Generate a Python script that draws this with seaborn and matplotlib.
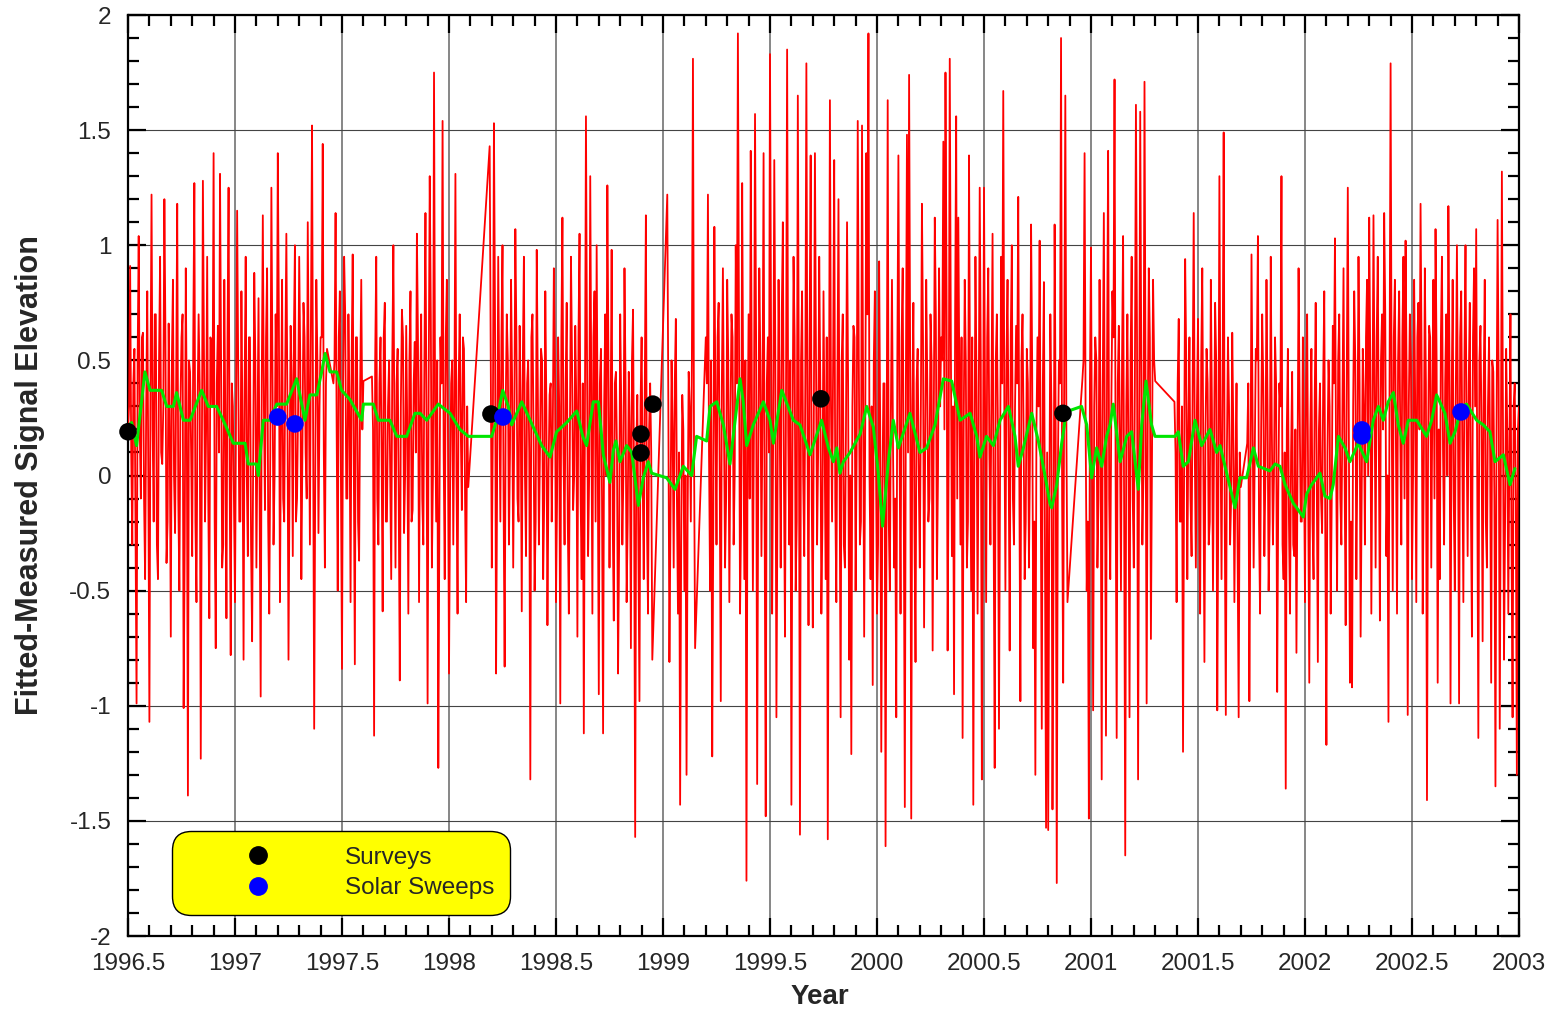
import numpy as np
import pandas as pd
import matplotlib
matplotlib.use("Agg")
import matplotlib.pyplot as plt
import seaborn as sns
from matplotlib.ticker import MultipleLocator, FuncFormatter
from matplotlib.lines import Line2D

# ---------------- data ----------------
# observation periods (start, end) in decimal years
segment_bounds = [(1996.50, 1997.43), (1997.46, 1997.60), (1997.64, 1998.09),
                  (1998.19, 1998.95), (1999.02, 1999.15), (1999.20, 2000.89),
                  (2000.96, 2001.30), (2001.39, 2001.70), (2001.73, 2003.00)]

# red residuals: excursion samples per period
red_a = [0.20, 0.91, -0.30, 0.55, -0.99, 1.04, -0.10, 0.62, -0.45, 0.80,
         -1.07, 1.22, -0.20, 0.70, -0.45, 0.95, 0.05, 1.20, -0.38, 0.66,
         -0.70, 0.85, -0.25, 1.18, -0.50, 0.60, -1.01, 0.90, -1.39, 0.45,
         -0.35, 1.27, -0.55, 0.70, -1.23, 1.28, -0.20, 0.95, -0.62, 0.58,
         1.40, -0.75, 0.65, 1.31, -0.40, 0.85, -0.62, 1.25, -0.78, 0.30,
         -0.55, 1.15, -0.20, 0.80, -0.80, 0.95, -0.35, 0.60, -0.72, 0.88,
         -0.40, 0.77, -0.96, 1.13, -0.15, 0.90, -0.60, 1.25, -0.30, 0.70,
         1.40, -0.55, 0.85, -0.20, 1.05, -0.80, 0.65, -0.35, 1.00, -0.10,
         0.95, -0.45, 0.75, 0.10, 1.10, -0.30, 1.52, -1.10, 0.85, -0.25, 0.60, 1.44, -0.40, 0.55]
red_b = [0.40, 1.14, -0.50, 0.80, -0.84, 0.95, -0.10, 0.70, -0.55, 0.96, -0.82, 0.60, -0.37, 0.85, 0.41]
red_c = [0.43, -1.13, 0.95, -0.30, 0.60, -0.59, 0.75, -0.20, 0.50, -0.45,
         1.00, -0.40, 0.55, -0.89, 0.72, -0.25, 0.65, -0.60, 0.80, -0.15, 0.58,
         1.05, -0.55, 0.70, -0.30, 1.14, -0.99, 1.30, -0.40, 1.75, -0.20, -1.27,
         0.60, 1.54, -0.45, 0.85, -0.86, 0.40, -0.30, 1.31, -0.60, 0.70, -0.15, 0.55, -0.55, -0.05]
red_d = [1.43, -0.40, 1.53, -0.86, 0.95, -0.20, 1.00, -0.83, 0.70, -0.30,
         0.85, -0.40, 1.07, -0.10, 0.65, -0.59, 0.95, -0.35, 0.50, -1.32,
         0.70, -0.50, 0.98, -0.30, 0.55, -0.45, 0.80, -0.65, 0.35, -0.20,
         0.90, -0.55, 0.60, -0.99, 1.12, -0.30, 0.75, -0.60, 0.95, -0.15,
         0.65, -0.70, 1.05, -0.45, -1.12, 1.56, -0.35, 1.30, -0.60, 0.80,
         1.00, -0.95, 0.55, -1.12, 0.70, 1.26, -0.40, 0.98, -0.63, 0.45,
         -0.86, 0.70, -0.30, 0.90, -0.55, 0.45, -0.75, 0.72, -1.57, 0.35,
         -0.98, 0.60, -0.45, 1.13, -0.60, 0.40, -0.80]
red_e = [1.22, -0.81, 0.50, -0.40, 0.68, -0.60, -1.43, 0.35, -0.50, -1.30, 0.45, -0.20, 1.81, -0.75]
red_f = [0.60, 1.22, -0.50, -1.22, 1.08, -0.30, 0.75, -0.98, 0.90, -0.40,
         0.85, -0.55, 0.70, -0.30, 1.00, 1.92, -0.60, 1.27, -0.45, -1.76,
         0.70, 1.41, -0.50, 1.57, -1.34, 0.90, -0.35, 1.40, -1.48, 0.60,
         1.83, -0.60, 1.37, -1.05, 0.85, -0.40, 1.10, -0.70, 1.85, -0.30,
         -1.43, 0.95, -0.50, 1.65, -1.56, 0.80, -0.35, 1.79, -0.65, 1.39,
         -0.66, 1.40, -0.30, 0.95, -0.60, 0.80, -0.45, -1.58, 1.63, -0.20,
         1.37, -0.55, 1.20, -1.05, 0.70, -0.40, 1.10, -0.80, -1.21, 0.65,
         -0.50, 1.54, -0.30, 1.52, -0.70, 1.40, 1.92, -0.45, -0.91, 0.80,
         -0.60, 0.93, -1.20, 0.40, -1.61, 1.63, -0.50, 0.85, -0.40, -1.05,
         1.39, -0.60, 0.90, -1.44, 1.48, 1.74, -1.49, 0.75, -0.81, 0.55,
         -0.40, 1.18, -0.66, 0.85, -0.20, 0.70, -0.76, 1.12, -0.45, 0.90,
         0.60, 1.45, 1.75, -0.76, 1.81, -0.35, -0.95, 1.56, 1.12, -0.30,
         -1.14, 0.85, -0.40, 1.39, -0.50, -1.43, 0.95, -0.60, 1.25, -1.32,
         1.25, -0.55, 0.90, -0.30, 1.05, -1.27, 0.70, -1.10, 0.95, 1.67,
         -0.50, 0.85, -0.76, 1.00, -0.30, 0.65, 1.21, -0.98, 0.70, -0.45,
         0.55, -0.40, 1.09, -0.75, -1.30, 0.60, 1.02, -1.10, 0.84, -1.53,
         -1.54, 0.70, -1.45, 1.09, -1.77, 0.50, 1.90, -0.90, 1.65, -0.55]
red_g = [0.42, 1.40, -0.50, -1.49, 0.99, -1.02, 0.60, -0.40, 0.85, -1.32,
         1.14, -1.13, 1.41, -0.45, 0.80, 1.72, -1.14, 0.65, -0.50, 1.04,
         -1.65, 0.70, -1.05, 0.95, -0.40, 1.61, -1.32, 1.58, -0.30, 1.71, -0.99, 0.90, -0.71, 0.85, 0.41]
red_h = [0.32, -0.55, 0.68, -0.20, -1.20, 0.94, -0.45, 0.60, -0.35, 1.14,
         -0.40, 0.68, -0.60, 0.90, -0.81, 0.55, -0.30, 0.85, -0.50, 0.75,
         -1.02, 1.30, -0.45, 1.49, -1.04, 0.60, -0.30, 0.62, -0.55, 0.40, -1.05, -0.05]
red_i = [0.14, -0.98, 0.96, -0.40, 0.55, 1.04, -0.60, 0.70, -0.35, 0.85,
         -0.50, 0.95, -0.30, 0.60, -0.94, 0.40, 1.30, -0.45, -1.36, 0.55,
         -0.60, 0.45, -0.35, -0.77, 0.90, -0.20, 0.60, -0.55, 0.70, -0.90,
         0.55, -0.45, 0.75, -0.81, 0.40, -0.25, 0.80, -1.17, 0.50, -0.60,
         0.65, 1.03, -0.50, 0.70, -0.30, 0.90, -0.65, 1.25, -0.90, -0.92,
         0.80, -0.45, 0.95, -0.70, 0.55, -0.30, 0.85, 1.12, -0.60, 1.13,
         -0.40, 0.95, -0.63, 0.70, 1.14, -0.35, -1.07, 1.79, -0.50, 0.85,
         -0.60, 0.80, -0.30, 0.95, 1.02, -1.04, 0.70, -0.45, 0.85, -0.55,
         0.75, 1.18, -0.60, 0.90, -1.41, 0.65, -0.40, 0.85, 1.07, -0.90,
         -0.45, 0.95, -0.30, 0.70, 1.17, -0.99, 0.85, -0.50, 1.00, -0.99,
         0.80, -0.55, 1.00, -0.35, 0.75, -0.70, 0.90, 1.07, -1.14, 0.65,
         -0.72, 0.85, -0.40, 0.60, -0.90, 0.45, -1.35, 1.11, -1.10, 1.32,
         -0.80, 0.55, -0.60, 0.70, -1.05, 0.40, -1.30, 0.30]

# red residuals: in-between (core band) samples per period, one fewer than above
mid_a = [0.3, 0.1, 0.4, -0.2, 0.5, 0.2, 0.6, -0.1, 0.3, 0.0,
         0.4, 0.2, 0.7, -0.3, 0.5, 0.1, 0.3, 0.6, -0.2, 0.2,
         0.5, 0.0, 0.4, -0.1, 0.3, 0.7, -0.3, 0.2, 0.5, 0.1,
         0.6, -0.2, 0.3, 0.4, 0.0, 0.5, 0.2, -0.1, 0.6, 0.3,
         -0.2, 0.4, 0.1, 0.5, -0.3, 0.2, 0.6, 0.0, 0.4, -0.1,
         0.3, 0.5, -0.2, 0.2, 0.4, 0.0, 0.6, -0.3, 0.1, 0.5,
         0.2, -0.1, 0.4, 0.3, 0.6, -0.2, 0.1, 0.5, 0.0, 0.3,
         0.7, 0.2, -0.1, 0.5, 0.3, 0.0, 0.4, 0.6, -0.2, 0.3,
         0.5, 0.1, 0.6, -0.1, 0.4, 0.7, 0.2, 0.0, 0.5, 0.3,
         0.6, 0.1, 0.4]
mid_b = [0.5, 0.2, 0.6, 0.0, 0.4, 0.7, -0.1, 0.3, 0.5, 0.1, 0.6, -0.2, 0.4, 0.2]
mid_c = [0.2, 0.5, -0.1, 0.4, 0.1, 0.6, -0.2, 0.3, 0.0, 0.5,
         0.2, 0.4, -0.1, 0.3, 0.6, 0.0, 0.2, 0.5, -0.2, 0.4,
         0.1, 0.6, 0.3, -0.1, 0.5, 0.2, 0.4, 0.7, 0.0, 0.3,
         0.5, -0.2, 0.4, 0.1, 0.6, 0.2, -0.1, 0.5, 0.3, 0.0,
         0.4, 0.2, 0.6, -0.1, 0.3]
mid_d = [0.5, 0.2, 0.7, 0.0, 0.4, 0.6, -0.1, 0.3, 0.5, 0.1,
         0.4, 0.2, 0.6, -0.2, 0.3, 0.5, 0.0, 0.4, 0.1, 0.6,
         0.2, -0.2, 0.4, 0.1, 0.5, -0.1, 0.3, 0.0, 0.4, 0.2,
         0.5, -0.1, 0.3, 0.6, 0.1, 0.4, -0.2, 0.2, 0.5, 0.0,
         0.3, 0.6, -0.1, 0.4, 0.2, 0.5, 0.0, 0.3, 0.6, -0.2,
         0.1, 0.4, -0.1, 0.3, 0.0, 0.5, 0.2, -0.2, 0.4, 0.1,
         -0.3, 0.3, 0.0, 0.4, -0.2, 0.2, 0.5, -0.1, 0.1, -0.3,
         0.3, 0.0, 0.4, -0.2, 0.2, 0.1]
mid_e = [0.3, -0.2, 0.2, 0.4, -0.1, 0.1, -0.3, 0.2, 0.0, -0.2, 0.3, 0.5, 0.1]
mid_f = [0.4, 0.1, 0.5, -0.2, 0.3, 0.6, 0.0, 0.4, 0.2, -0.1,
         0.5, 0.2, 0.6, 0.0, 0.4, 0.7, -0.2, 0.3, 0.5, 0.1,
         -0.1, 0.4, 0.2, 0.6, 0.0, 0.5, 0.3, -0.2, 0.4, 0.1,
         0.6, 0.2, 0.5, -0.1, 0.3, 0.7, 0.0, 0.4, 0.2, 0.5,
         0.1, 0.6, -0.2, 0.3, 0.5, 0.0, 0.4, 0.2, 0.6, -0.1,
         0.3, 0.5, 0.1, 0.4, -0.2, 0.2, 0.6, 0.0, 0.3, 0.5,
         -0.1, 0.4, 0.1, 0.5, -0.3, 0.2, 0.4, 0.0, 0.3, 0.6,
         0.1, 0.5, -0.2, 0.4, 0.2, 0.7, 0.0, 0.3, 0.5, 0.1,
         -0.3, 0.2, -0.1, 0.4, 0.0, -0.2, 0.3, 0.1, -0.1, 0.5,
         0.2, 0.6, -0.1, 0.4, 0.1, 0.5, 0.3, -0.2, 0.4, 0.0,
         0.3, 0.6, 0.1, 0.4, -0.1, 0.5, 0.2, 0.7, 0.0, 0.3,
         0.5, 0.2, 0.8, 0.1, 0.6, 0.3, 0.7, -0.1, 0.4, 0.6,
         0.2, 0.5, -0.2, 0.3, 0.6, 0.0, 0.4, 0.2, 0.5, -0.1,
         0.3, 0.6, 0.1, 0.4, -0.2, 0.5, 0.2, 0.0, 0.4, 0.3,
         0.5, 0.1, 0.6, -0.1, 0.3, 0.4, 0.0, 0.5, 0.2, -0.2,
         0.4, 0.1, 0.5, -0.2, 0.2, 0.3, 0.0, 0.4, -0.3, 0.1,
         -0.2, 0.3, -0.4, 0.2, 0.0, 0.4, -0.1, 0.5, 0.2]
mid_g = [0.5, 0.2, -0.2, 0.4, 0.0, 0.3, 0.5, -0.1, 0.2, 0.4,
         0.1, 0.5, -0.1, 0.3, 0.6, 0.0, 0.4, 0.2, 0.5, -0.2,
         0.3, 0.1, 0.5, -0.1, 0.4, 0.6, 0.2, 0.5, 0.0, 0.4,
         0.2, 0.6, 0.1, 0.5]
mid_h = [0.1, 0.4, -0.2, 0.3, 0.0, 0.5, 0.2, -0.1, 0.4, 0.1,
         0.3, -0.1, 0.5, 0.0, 0.2, 0.4, -0.2, 0.3, 0.1, 0.5,
         -0.1, 0.2, 0.4, -0.2, 0.1, 0.3, -0.1, 0.2, 0.0, -0.3,
         0.1]
mid_i = [0.4, -0.1, 0.3, 0.1, 0.5, -0.2, 0.2, 0.4, 0.0, 0.3,
         -0.2, 0.2, 0.0, 0.4, -0.1, 0.3, -0.3, 0.1, 0.2, -0.2,
         0.1, -0.3, 0.2, 0.0, 0.3, -0.2, 0.1, 0.4, -0.1, 0.2,
         -0.2, 0.3, 0.0, 0.2, -0.1, 0.4, -0.3, 0.1, 0.3, -0.1,
         0.4, 0.1, 0.5, -0.1, 0.3, 0.0, 0.4, 0.2, -0.2, 0.3,
         0.5, 0.1, 0.4, -0.1, 0.3, 0.6, 0.0, 0.5, 0.2, 0.4,
         0.6, 0.1, 0.5, 0.2, 0.7, 0.0, 0.4, 0.3, 0.6, 0.1,
         0.5, 0.2, 0.6, -0.1, 0.4, 0.3, 0.5, 0.0, 0.3, 0.6,
         0.2, 0.5, 0.0, 0.4, 0.1, 0.6, 0.3, -0.1, 0.5, 0.2,
         0.6, 0.1, 0.4, 0.0, 0.5, 0.3, -0.1, 0.4, 0.2, 0.6,
         0.1, 0.5, 0.2, 0.4, -0.1, 0.6, 0.3, 0.0, 0.5, 0.2,
         0.4, -0.2, 0.3, 0.1, 0.5, -0.1, 0.2, 0.4, 0.0, 0.3,
         -0.2, 0.2, 0.1, -0.3, 0.3, -0.1, 0.2]

red_segments = [red_a, red_b, red_c, red_d, red_e, red_f, red_g, red_h, red_i]
mid_segments = [mid_a, mid_b, mid_c, mid_d, mid_e, mid_f, mid_g, mid_h, mid_i]

# running mean (green)
green_x = [1996.505, 1996.517, 1996.540, 1996.579, 1996.603, 1996.657, 1996.681, 1996.712, 1996.727,
           1996.759, 1996.790, 1996.844, 1996.875, 1996.914, 1996.945, 1996.992, 1997.047, 1997.062,
           1997.101, 1997.109, 1997.132, 1997.163, 1997.195, 1997.241, 1997.288, 1997.327, 1997.350,
           1997.382, 1997.405, 1997.421, 1997.444, 1997.475, 1997.498, 1997.537, 1997.592, 1997.600,
           1997.646, 1997.670, 1997.724, 1997.756, 1997.802, 1997.841, 1997.865, 1997.896, 1997.950,
           1998.005, 1998.051, 1998.090, 1998.199, 1998.223, 1998.251, 1998.277, 1998.293, 1998.340,
           1998.379, 1998.433, 1998.472, 1998.503, 1998.550, 1998.597, 1998.625, 1998.643, 1998.674,
           1998.698, 1998.721, 1998.752, 1998.768, 1998.780, 1998.799, 1998.830, 1998.854, 1998.885,
           1998.908, 1998.931, 1998.947, 1999.017, 1999.056, 1999.095, 1999.134, 1999.157, 1999.204,
           1999.220, 1999.251, 1999.282, 1999.313, 1999.360, 1999.375, 1999.391, 1999.422, 1999.469,
           1999.500, 1999.516, 1999.555, 1999.609, 1999.640, 1999.687, 1999.741, 1999.773, 1999.796,
           1999.812, 1999.827, 1999.843, 1999.874, 1999.921, 1999.952, 1999.983, 2000.006, 2000.026,
           2000.053, 2000.076, 2000.100, 2000.154, 2000.201, 2000.232, 2000.271, 2000.310, 2000.349,
           2000.388, 2000.435, 2000.466, 2000.481, 2000.512, 2000.544, 2000.575, 2000.614, 2000.645,
           2000.660, 2000.684, 2000.723, 2000.754, 2000.785, 2000.808, 2000.816, 2000.840, 2000.863,
           2000.879, 2000.894, 2000.956, 2000.980, 2001.003, 2001.026, 2001.050, 2001.073, 2001.089,
           2001.104, 2001.136, 2001.167, 2001.190, 2001.221, 2001.237, 2001.257, 2001.283, 2001.299,
           2001.393, 2001.408, 2001.431, 2001.455, 2001.486, 2001.517, 2001.556, 2001.587, 2001.603,
           2001.634, 2001.673, 2001.696, 2001.727, 2001.759, 2001.782, 2001.836, 2001.860, 2001.883,
           2001.907, 2001.945, 2001.992, 2002.008, 2002.031, 2002.070, 2002.093, 2002.117, 2002.132,
           2002.156, 2002.187, 2002.210, 2002.249, 2002.288, 2002.319, 2002.343, 2002.366, 2002.389,
           2002.413, 2002.436, 2002.459, 2002.483, 2002.522, 2002.568, 2002.592, 2002.615, 2002.654,
           2002.678, 2002.701, 2002.732, 2002.755, 2002.802, 2002.833, 2002.864, 2002.888, 2002.927,
           2002.958, 2002.981]
green_y = [0.22, 0.23, 0.13, 0.45, 0.37, 0.37, 0.30, 0.30, 0.36,
           0.24, 0.24, 0.37, 0.30, 0.30, 0.24, 0.14, 0.14, 0.05,
           0.05, 0.00, 0.24, 0.24, 0.31, 0.31, 0.42, 0.24, 0.35,
           0.35, 0.45, 0.53, 0.45, 0.45, 0.37, 0.33, 0.24, 0.31,
           0.31, 0.24, 0.24, 0.17, 0.17, 0.27, 0.27, 0.24, 0.31,
           0.27, 0.20, 0.17, 0.17, 0.24, 0.37, 0.30, 0.22, 0.32,
           0.24, 0.13, 0.08, 0.19, 0.23, 0.28, 0.17, 0.13, 0.32,
           0.32, 0.09, -0.03, 0.11, 0.15, 0.06, 0.13, 0.10, -0.13,
           -0.01, 0.06, 0.01, -0.01, -0.06, 0.04, 0.00, 0.17, 0.15,
           0.30, 0.32, 0.22, 0.05, 0.42, 0.32, 0.13, 0.22, 0.32,
           0.24, 0.14, 0.37, 0.24, 0.22, 0.09, 0.24, 0.12, 0.06,
           0.12, 0.01, 0.06, 0.10, 0.18, 0.30, 0.21, 0.01, -0.22,
           0.06, 0.24, 0.12, 0.27, 0.10, 0.12, 0.22, 0.42, 0.41,
           0.24, 0.27, 0.17, 0.08, 0.17, 0.13, 0.24, 0.30, 0.17,
           0.04, 0.12, 0.27, 0.15, 0.00, -0.12, -0.14, -0.04, 0.14,
           0.24, 0.28, 0.30, 0.22, -0.01, 0.12, 0.04, 0.17, 0.22,
           0.31, 0.06, 0.17, 0.19, -0.06, 0.22, 0.41, 0.22, 0.17,
           0.17, 0.19, 0.04, 0.06, 0.24, 0.13, 0.20, 0.10, 0.13,
           0.01, -0.14, -0.01, -0.01, 0.12, 0.04, 0.02, 0.05, 0.04,
           -0.04, -0.12, -0.18, -0.08, -0.04, 0.01, -0.09, -0.10, -0.04,
           0.17, 0.12, 0.06, 0.14, 0.06, 0.24, 0.30, 0.24, 0.32,
           0.36, 0.22, 0.14, 0.24, 0.24, 0.17, 0.24, 0.35, 0.27,
           0.14, 0.19, 0.30, 0.31, 0.24, 0.22, 0.19, 0.06, 0.09,
           -0.04, 0.03]

survey_x = [1996.50, 1998.196, 1998.897, 1998.897, 1998.953, 1999.738, 2000.869]
survey_y = [0.19, 0.267, 0.18, 0.098, 0.31, 0.333, 0.27]
sweep_x = [1997.20, 1997.28, 1998.252, 2002.266, 2002.266, 2002.729]
sweep_y = [0.254, 0.224, 0.254, 0.198, 0.172, 0.276]

x_ticks = [1996.5, 1997, 1997.5, 1998, 1998.5, 1999, 1999.5, 2000, 2000.5, 2001, 2001.5, 2002, 2002.5, 2003]
y_ticks = [-2, -1.5, -1, -0.5, 0, 0.5, 1, 1.5, 2]

# ---------------- build tables ----------------
red_t, red_v = [], []
for (t0, t1), vals, mids in zip(segment_bounds, red_segments, mid_segments):
    merged = []
    for k, v in enumerate(vals):
        merged.append(v)
        if k < len(mids):
            merged.append(mids[k])
    red_t.extend(np.linspace(t0, t1, len(merged)))
    red_v.extend(merged)
red_df = pd.DataFrame({"year": red_t, "diff": red_v})
green_df = pd.DataFrame({"year": green_x, "diff": green_y})
survey_df = pd.DataFrame({"year": survey_x, "diff": survey_y})
sweep_df = pd.DataFrame({"year": sweep_x, "diff": sweep_y})

# ---------------- style ----------------
sns.set_theme(style="white")
plt.rcParams["font.family"] = ["Liberation Sans", "DejaVu Sans"]
plt.rcParams["axes.unicode_minus"] = False

fig = plt.figure(figsize=(15.64, 10.13), dpi=100)
ax = fig.add_axes([128 / 1564, 1 - 936 / 1013, (1519 - 128) / 1564, (936 - 15) / 1013])
ax.set_facecolor("white")

sns.lineplot(data=red_df, x="year", y="diff", sort=False, estimator=None,
             color="#FF0000", lw=1.3, ax=ax, zorder=3)
sns.lineplot(data=green_df, x="year", y="diff", sort=False, estimator=None,
             color="#00E600", lw=2.2, ax=ax, zorder=4)
sns.scatterplot(data=survey_df, x="year", y="diff", color="black", s=160,
                edgecolor="none", ax=ax, zorder=6, clip_on=False)
sns.scatterplot(data=sweep_df, x="year", y="diff", color="#0000FF", s=160,
                edgecolor="none", ax=ax, zorder=6, clip_on=False)

ax.set_xlim(1996.5, 2003)
ax.set_ylim(-2, 2)
ax.set_xticks(x_ticks)
ax.set_yticks(y_ticks)
ax.xaxis.set_minor_locator(MultipleLocator(0.1))
ax.yaxis.set_minor_locator(MultipleLocator(0.1))
fmt = FuncFormatter(lambda v, p: "%g" % v)
ax.xaxis.set_major_formatter(fmt)
ax.yaxis.set_major_formatter(fmt)

ax.grid(True, which="major", axis="y", color="#444444", lw=0.8, zorder=0)
ax.grid(True, which="major", axis="x", color="#666666", lw=1.1, zorder=0)
ax.set_axisbelow(True)

for s in ax.spines.values():
    s.set_linewidth(1.6)
    s.set_color("black")
ax.tick_params(which="both", direction="in", top=True, right=True, bottom=True, left=True,
               color="black")
ax.tick_params(which="major", length=13, width=1.6)
ax.tick_params(which="minor", length=8, width=1.6)
ax.tick_params(axis="x", which="major", labelsize=17.5, pad=12)
ax.tick_params(axis="y", which="major", labelsize=17.5, pad=12)

ax.set_xlabel("Year", fontsize=20, fontweight="bold")
ax.set_ylabel("Fitted-Measured Signal Elevation", fontsize=22, fontweight="bold")
ax.xaxis.set_label_coords((820 - 128) / 1391, -0.052)
ax.yaxis.set_label_coords(-0.060, 0.5)

handles = [Line2D([], [], ls="none", marker="o", color="black", markersize=12.5),
           Line2D([], [], ls="none", marker="o", color="#0000FF", markersize=12.5)]
leg = ax.legend(handles, ["Surveys", "Solar Sweeps"], loc="lower left",
                bbox_to_anchor=((172 - 128) / 1391, (936 - 915) / 921), borderaxespad=0,
                fontsize=17.5, frameon=True, fancybox=True, facecolor="#FFFF00",
                edgecolor="black", framealpha=1, borderpad=0.65, handlelength=5.8,
                handletextpad=0.65, labelspacing=0.35, numpoints=1)
leg.get_frame().set_linewidth(1.0)
leg.get_frame().set_boxstyle("round,pad=0,rounding_size=0.8")
leg.set_zorder(10)

fig.savefig("out.png", dpi=100, facecolor="white")
